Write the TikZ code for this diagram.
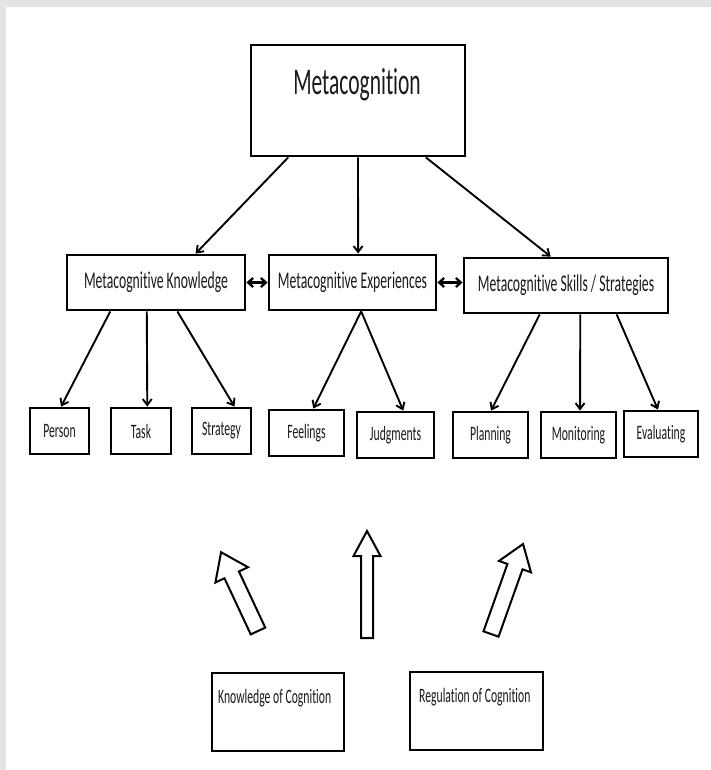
\documentclass[tikz,border=0pt]{standalone}
\usepackage{fontspec}
\setmainfont{Carlito}[FakeStretch=0.57,Ligatures=NoCommon]
\usetikzlibrary{arrows.meta,calc}
\definecolor{bgframe}{HTML}{E4E4E4}
\definecolor{txt}{HTML}{1A1A1A}
\begin{document}
\begin{tikzpicture}[x=1pt,y=-1pt,
  box/.style={draw=black,line width=2.8pt,fill=white,inner sep=0pt,text=txt},
  midtxt/.style={font=\fontsize{24}{26}\selectfont},
  smalltxt/.style={font=\fontsize{20.5}{22}\selectfont},
  conn/.style={line width=1.9pt,-{Straight Barb[length=6pt,width=9pt]}},
  dbl/.style={line width=2.3pt,{Straight Barb[length=5pt,width=9pt]}-{Straight Barb[length=5pt,width=9pt]}},
  hollow/.style={draw=black,line width=2pt,fill=white,line join=miter}]
\fill[bgframe] (0,0) rectangle (711,770);
\fill[white] (6,7) rectangle (711,770);
\useasboundingbox (0,0) rectangle (711,770);

% top
\node[box,minimum width=214pt,minimum height=111pt] (meta) at (358,100.5) {};
\node[text=txt,anchor=base,font=\fontsize{37.7}{40}\selectfont] (metat) at (357,95) {Metacognition};

% middle row
\node[box,midtxt,minimum width=178pt,minimum height=55pt] (mk) at (156,282.5) {Metacognitive Knowledge};
\node[box,midtxt,minimum width=167pt,minimum height=55pt] (me) at (352.5,282.5) {Metacognitive Experiences};
\node[box,midtxt,minimum width=204pt,minimum height=55pt] (ms) at (566,285.5) {Metacognitive Skills / Strategies};

% bottom row
\node[box,smalltxt,minimum width=59pt,minimum height=46pt] (person) at (59.5,431) {Person};
\node[box,smalltxt,minimum width=60pt,minimum height=46pt] (task) at (141,431) {Task};
\node[box,smalltxt,minimum width=59pt,minimum height=46pt] (strategy) at (221.5,431) {Strategy};
\node[box,smalltxt,minimum width=75pt,minimum height=46pt] (feel) at (306.5,433) {Feelings};
\node[box,smalltxt,minimum width=77pt,minimum height=46pt] (judg) at (395.5,435) {Judgments};
\node[box,smalltxt,minimum width=75pt,minimum height=46pt] (plan) at (490.5,435) {Planning};
\node[box,smalltxt,minimum width=75pt,minimum height=46pt] (moni) at (578.5,435) {Monitoring};
\node[box,smalltxt,minimum width=74pt,minimum height=46pt] (eval) at (661,434) {Evaluating};

% cognition boxes
\node[box,minimum width=132pt,minimum height=78pt] (know) at (278,712) {};
\node[text=txt,smalltxt,anchor=base west,inner sep=0pt] (knowt) at (218,703) {Knowledge of Cognition};
\node[box,minimum width=133pt,minimum height=78pt] (regu) at (476.5,711) {};
\node[text=txt,smalltxt,anchor=base west,inner sep=0pt] (regut) at (419,702) {Regulation of Cognition};

% connectors from top
\draw[conn] ($(meta.south west)!0.178!(meta.south east)$) -- ($(mk.north west)!0.719!(mk.north east)$);
\draw[conn] ($(meta.south west)!0.5!(meta.south east)$) -- ($(me.north west)!0.533!(me.north east)$);
\draw[conn] ($(meta.south west)!0.813!(meta.south east)$) -- ($(ms.north west)!0.426!(ms.north east)$);

% double arrows
\draw[dbl] (mk.east) -- (me.west);
\draw[dbl] (me.east) -- (me.east -| ms.west);

% children
\draw[conn] ($(mk.south west)!0.247!(mk.south east)$) -- ($(person.north west)!0.525!(person.north east)$);
\draw[conn] ($(mk.south west)!0.449!(mk.south east)$) -- ($(task.north west)!0.6!(task.north east)$);
\draw[conn] ($(mk.south west)!0.618!(mk.south east)$) -- ($(strategy.north west)!0.71!(strategy.north east)$);
\draw[conn] ($(me.south west)!0.551!(me.south east)$) -- ($(feel.north west)!0.587!(feel.north east)$);
\draw[conn] ($(me.south west)!0.551!(me.south east)$) -- ($(judg.north west)!0.597!(judg.north east)$);
\draw[conn] ($(ms.south west)!0.373!(ms.south east)$) -- ($(plan.north west)!0.507!(plan.north east)$);
\draw[conn] ($(ms.south west)!0.569!(ms.south east)$) -- ($(moni.north west)!0.52!(moni.north east)$);
\draw[conn] ($(ms.south west)!0.745!(ms.south east)$) -- ($(eval.north west)!0.46!(eval.north east)$);

% hollow block arrows
\draw[hollow,shift={(258,631)},rotate=115.1] (0,-8) -- (62,-8) -- (62,-18) -- (87,0) -- (62,18) -- (62,8) -- (0,8) -- cycle;
\draw[hollow,shift={(367,638)},rotate=90] (0,-6) -- (82,-6) -- (82,-13.5) -- (107,0) -- (82,13.5) -- (82,6) -- (0,6) -- cycle;
\draw[hollow,shift={(491,634)},rotate=70.4] (0,-8) -- (71.5,-8) -- (71.5,-17) -- (95.5,0) -- (71.5,17) -- (71.5,8) -- (0,8) -- cycle;
\end{tikzpicture}
\end{document}
